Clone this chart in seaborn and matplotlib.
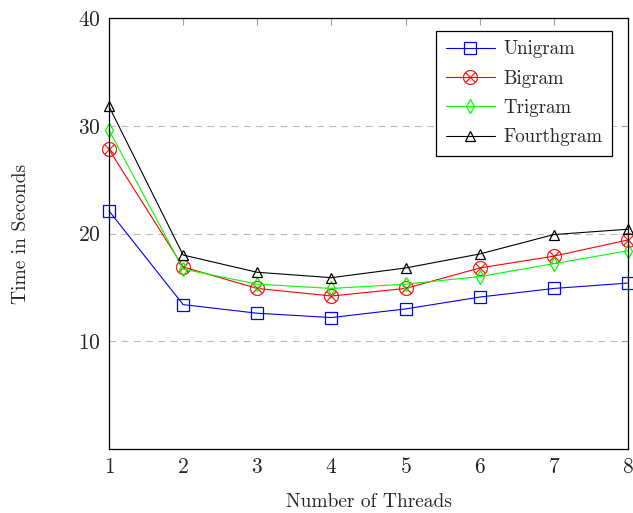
import numpy as np
import pandas as pd
import seaborn as sns
import matplotlib.pyplot as plt

# --------------------- data --------------------- #
threads = [1, 2, 3, 4, 5, 6, 7, 8]
unigram = [22.1, 13.4, 12.6, 12.2, 13.0, 14.1, 14.9, 15.4]
bigram = [27.8, 16.9, 14.9, 14.2, 14.9, 16.8, 17.9, 19.4]
trigram = [29.6, 16.7, 15.3, 14.9, 15.3, 16.0, 17.2, 18.4]
fourthgram = [31.8, 18.0, 16.4, 15.9, 16.8, 18.1, 19.9, 20.4]

series = {'Unigram': unigram, 'Bigram': bigram,
          'Trigram': trigram, 'Fourthgram': fourthgram}
colors = {'Unigram': '#0000ff', 'Bigram': '#ff0000',
          'Trigram': '#00ff00', 'Fourthgram': '#000000'}
markers = {'Unigram': 's', 'Bigram': r'$\otimes$',
           'Trigram': 'd', 'Fourthgram': '^'}
msizes = {'Unigram': 8, 'Bigram': 10.5, 'Trigram': 7, 'Fourthgram': 7}

# --------------------- plot --------------------- #
sns.set_style('white')
plt.rcParams['font.family'] = ['cmr10', 'DejaVu Serif']
plt.rcParams['mathtext.fontset'] = 'cm'
plt.rcParams['axes.formatter.use_mathtext'] = True

fig = plt.figure(figsize=(6.33, 5.13), dpi=100)
ax = fig.add_axes([109 / 633, 1 - 449 / 513, 519 / 633, 431 / 513])

for name, vals in series.items():
    df = pd.DataFrame({'threads': threads, 'time': vals})
    c = colors[name]
    if name == 'Bigram':
        # glyph marker: filled with a hairline edge so it stays thin
        mkw = dict(markerfacecolor=c, markeredgecolor=c, markeredgewidth=0.3)
    else:
        mkw = dict(markerfacecolor='none', markeredgecolor=c,
                   markeredgewidth=0.9)
    sns.lineplot(data=df, x='threads', y='time', ax=ax, color=c,
                 marker=markers[name], markersize=msizes[name],
                 linewidth=0.8, label=name, clip_on=False, **mkw)

ax.set_xlim(1, 8)
ax.set_ylim(0, 40)
ax.set_xticks(threads)
ax.set_yticks([10, 20, 30, 40])

for y in [10, 20, 30]:
    ax.axhline(y, color='#b8b8b8', linewidth=0.8, dashes=(6, 5), zorder=0)

ax.tick_params(direction='in', length=5, color='#a0a0a0', width=0.8,
               top=True, right=True, labelsize=15.5, pad=6)
for s in ax.spines.values():
    s.set_color('black')
    s.set_linewidth(0.9)

ax.set_xlabel('Number of Threads', fontsize=14)
ax.set_ylabel('Time in Seconds', fontsize=14)
ax.xaxis.set_label_coords(0.5, -0.102)
ax.yaxis.set_label_coords(-0.152, 0.5)

leg = ax.legend(loc='upper right', bbox_to_anchor=(0.969, 0.97),
                borderaxespad=0, fontsize=13.6, frameon=True,
                fancybox=False, edgecolor='black', framealpha=1,
                handlelength=2.6, handletextpad=0.45,
                borderpad=0.5, labelspacing=0.6)
leg.get_frame().set_linewidth(0.9)

fig.savefig('out.png', dpi=100)
